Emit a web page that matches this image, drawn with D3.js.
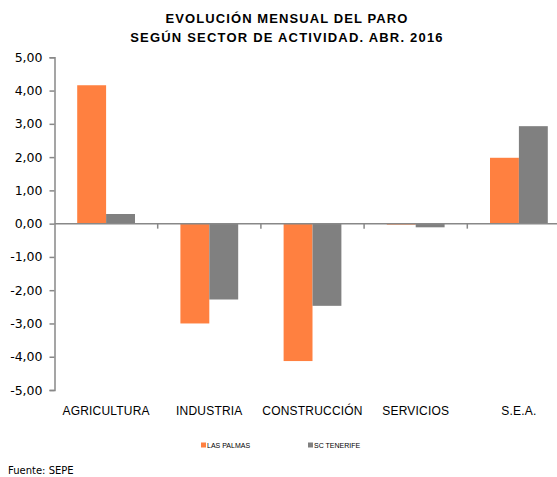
<!DOCTYPE html>
<html>
<head>
<meta charset="utf-8">
<script src="https://cdn.jsdelivr.net/npm/d3@7"></script>
<style>
  body { margin: 0; background: #fff; }
  text { font-family: "Liberation Sans", Arial, sans-serif; }
</style>
</head>
<body>
<svg id="chart" width="557" height="477"></svg>
<script>
const categories = ["AGRICULTURA", "INDUSTRIA", "CONSTRUCCIÓN", "SERVICIOS", "S.E.A."];
const seriesNames = ["LAS PALMAS", "SC TENERIFE"];
const lasPalmas = [4.16, -3.00, -4.13, -0.03, 1.98];
const scTenerife = [0.29, -2.28, -2.47, -0.11, 2.93];
const yTicks = [5, 4, 3, 2, 1, 0, -1, -2, -3, -4, -5];
const colors = ["#ff8040", "#808080"];

const svg = d3.select("#chart");
const axisColor = "#888888";

// title
svg.append("text")
  .attr("x", 287).attr("y", 23)
  .attr("text-anchor", "middle")
  .style("font-size", "13px").style("font-weight", "bold")
  .style("letter-spacing", "1.1px")
  .text("EVOLUCIÓN MENSUAL DEL PARO");
svg.append("text")
  .attr("x", 287).attr("y", 42)
  .attr("text-anchor", "middle")
  .style("font-size", "13px").style("font-weight", "bold")
  .style("letter-spacing", "1.2px")
  .text("SEGÚN SECTOR DE ACTIVIDAD. ABR. 2016");

const y = d3.scaleLinear().domain([-5, 5]).range([390, 57.3]);
const x0 = d3.scaleBand().domain(categories).range([54.5, 570.5])
  .paddingInner(0.44).paddingOuter(0.22);
const x1 = d3.scaleBand().domain(seriesNames).range([0, x0.bandwidth()]);

const data = categories.map((c, i) => ({ cat: c, values: [lasPalmas[i], scTenerife[i]] }));

// bars
const groups = svg.append("g").selectAll("g")
  .data(data).enter().append("g")
  .attr("transform", d => "translate(" + x0(d.cat) + ",0)");

groups.selectAll("rect")
  .data(d => d.values.map((v, k) => ({ v: v, k: k })))
  .enter().append("rect")
  .attr("x", d => x1(seriesNames[d.k]))
  .attr("width", x1.bandwidth())
  .attr("y", d => y(Math.max(0, d.v)))
  .attr("height", d => Math.abs(y(d.v) - y(0)))
  .attr("fill", d => colors[d.k]);

// y axis
const yAxis = svg.append("g")
  .attr("transform", "translate(54.5,0)")
  .call(d3.axisLeft(y).tickValues(yTicks).tickSize(5).tickPadding(7)
    .tickFormat(d => d3.format(".2f")(d).replace(".", ",").replace("\u2212", "-")));
yAxis.select(".domain").attr("stroke", axisColor).attr("stroke-width", 1.5);
yAxis.selectAll(".tick line").attr("stroke", axisColor).attr("stroke-width", 1.5);
yAxis.selectAll(".tick text")
  .style("font-size", "12.5px").style("font-family", "'DejaVu Sans', Verdana, sans-serif")
  .attr("fill", "#000");

// zero line with category ticks
const xAxis = svg.append("g")
  .attr("transform", "translate(0," + y(0) + ")");
xAxis.append("line")
  .attr("x1", 54.5).attr("x2", 570.5)
  .attr("stroke", axisColor).attr("stroke-width", 1.5);
xAxis.selectAll(".ctick")
  .data(categories.slice(1)).enter().append("line")
  .attr("x1", d => x0(d) - x0.step() * 0.22)
  .attr("x2", d => x0(d) - x0.step() * 0.22)
  .attr("y1", 0).attr("y2", 5)
  .attr("stroke", axisColor).attr("stroke-width", 1.5);

// category labels
svg.append("g").selectAll("text")
  .data(categories).enter().append("text")
  .attr("x", d => x0(d) + x0.bandwidth() / 2)
  .attr("y", 415)
  .attr("text-anchor", "middle")
  .style("font-size", "12px")
  .style("letter-spacing", "0.2px")
  .text(d => d);

// legend
const legendX = [201, 308];
const legend = svg.append("g").selectAll("g")
  .data(seriesNames).enter().append("g")
  .attr("transform", (d, i) => "translate(" + legendX[i] + ",445)");
legend.append("rect")
  .attr("x", 0).attr("y", -2.5).attr("width", 5).attr("height", 5)
  .attr("fill", (d, i) => colors[i]);
legend.append("text")
  .attr("x", 6).attr("y", 2.5)
  .style("font-size", "7px")
  .text(d => d);

// source
svg.append("text")
  .attr("x", 8).attr("y", 474)
  .style("font-size", "10px")
  .style("font-family", "'DejaVu Sans', Verdana, sans-serif")
  .text("Fuente: SEPE");
</script>
</body>
</html>
